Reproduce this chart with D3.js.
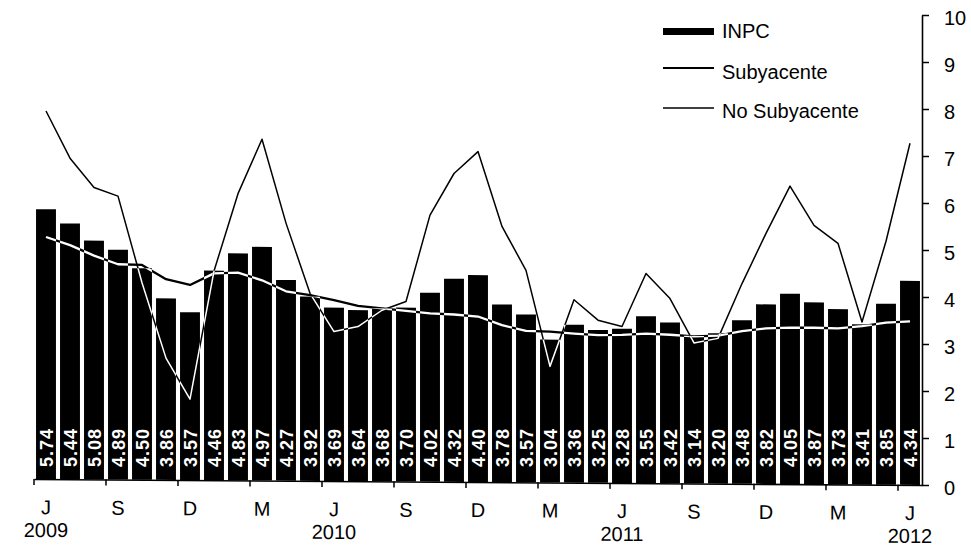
<!DOCTYPE html>
<html><head><meta charset="utf-8">
<script src="https://cdn.jsdelivr.net/npm/d3@7"></script>
<style>
html,body{margin:0;padding:0;background:#fff;}
svg{display:block;font-family:"Liberation Sans",Arial,sans-serif;}
</style></head>
<body>
<svg id="chart" width="971" height="548"></svg>
<script>
const categories = ["2009-06","2009-07","2009-08","2009-09","2009-10","2009-11","2009-12",
"2010-01","2010-02","2010-03","2010-04","2010-05","2010-06","2010-07","2010-08","2010-09","2010-10","2010-11","2010-12",
"2011-01","2011-02","2011-03","2011-04","2011-05","2011-06","2011-07","2011-08","2011-09","2011-10","2011-11","2011-12",
"2012-01","2012-02","2012-03","2012-04","2012-05","2012-06"];
const inpc = [5.74,5.44,5.08,4.89,4.50,3.86,3.57,4.46,4.83,4.97,4.27,3.92,3.69,3.64,3.68,3.70,4.02,4.32,4.40,
3.78,3.57,3.04,3.36,3.25,3.28,3.55,3.42,3.14,3.20,3.48,3.82,4.05,3.87,3.73,3.41,3.85,4.34];
const subyacente = [5.15,4.98,4.76,4.58,4.57,4.27,4.15,4.40,4.42,4.26,4.03,3.95,3.85,3.73,3.68,3.63,3.58,3.56,3.52,
3.34,3.22,3.21,3.17,3.14,3.15,3.18,3.16,3.13,3.15,3.25,3.31,3.33,3.33,3.32,3.37,3.45,3.48];
const noSubyacente = [7.83,6.83,6.21,6.03,4.19,2.59,1.72,4.45,6.10,7.26,5.48,3.99,3.18,3.29,3.64,3.83,5.67,6.56,7.03,
5.44,4.51,2.47,3.89,3.46,3.33,4.46,3.93,2.99,3.09,4.26,5.33,6.34,5.51,5.13,3.46,5.18,7.27];
const tickCats = ["2009-06","2009-09","2009-12","2010-03","2010-06","2010-09","2010-12","2011-03","2011-06","2011-09","2011-12","2012-03","2012-06"];
const tickLabels = ["J","S","D","M","J","S","D","M","J","S","D","M","J"];
const yearCats = ["2009-06","2010-06","2011-06","2012-06"];
const yearLabels = ["2009","2010","2011","2012"];
const yTicks = [0,1,2,3,4,5,6,7,8,9,10];
const legendNames = ["INPC","Subyacente","No Subyacente"];

const svg = d3.select("#chart");
const plotLeft = 34, plotRight = 922, plotTop = 15, plotBottom = 485;
const skewK = 0.0068;

const xAxisScale = d3.scaleBand().domain(categories).range([plotLeft, plotRight]).padding(0);
const xBar = d3.scaleBand().domain(categories).range([plotLeft, plotRight]).paddingInner(0.17).paddingOuter(0.085);
const y = d3.scaleLinear().domain([0, 10]).range([plotBottom, plotTop]);
const bw = xAxisScale.bandwidth();
const cx = c => xAxisScale(c) + bw / 2;

const g = svg.append("g")
  .attr("transform", `translate(0,${-skewK * plotRight}) skewY(${Math.atan(skewK) * 180 / Math.PI})`);

const defs = svg.append("defs");
const clip = defs.append("clipPath").attr("id", "barclip");
clip.selectAll("rect").data(categories).join("rect")
  .attr("x", d => xBar(d)).attr("width", xBar.bandwidth())
  .attr("y", (d, i) => y(inpc[i])).attr("height", (d, i) => y(0) - y(inpc[i]));

g.selectAll("rect.bar").data(categories).join("rect").attr("class", "bar")
  .attr("x", d => xBar(d)).attr("width", xBar.bandwidth())
  .attr("y", (d, i) => y(inpc[i])).attr("height", (d, i) => y(0) - y(inpc[i]))
  .attr("fill", "#000");

const line = d3.line().x(d => cx(d[0])).y(d => y(d[1]));
const subData = categories.map((c, i) => [c, subyacente[i]]);
const noData = categories.map((c, i) => [c, noSubyacente[i]]);

[[subData, 2.3], [noData, 1.5]].forEach(([data, w]) => {
  g.append("path").datum(data).attr("d", line).attr("fill", "none")
    .attr("stroke", "#000").attr("stroke-width", w).attr("stroke-linejoin", "round");
  g.append("path").datum(data).attr("d", line).attr("fill", "none")
    .attr("stroke", "#fff").attr("stroke-width", w).attr("stroke-linejoin", "round")
    .attr("clip-path", "url(#barclip)");
});

const xAxis = d3.axisBottom(xAxisScale).tickValues(tickCats)
  .tickFormat(d => tickLabels[tickCats.indexOf(d)])
  .tickSizeOuter(0).tickSizeInner(6).tickPadding(15);
const xg = g.append("g").attr("transform", `translate(0,${plotBottom})`).call(xAxis);
xg.select(".domain").attr("stroke", "#000").attr("stroke-width", 1.6);
xg.selectAll(".tick line").attr("x1", -bw / 2).attr("x2", -bw / 2).attr("stroke", "#000").attr("stroke-width", 1.5);
xg.selectAll(".tick text").attr("font-size", 20).attr("fill", "#000").attr("font-family", "Liberation Sans, Arial, sans-serif");

g.selectAll("text.year").data(yearCats).join("text").attr("class", "year")
  .attr("x", d => cx(d)).attr("y", 543).attr("text-anchor", "middle")
  .attr("font-size", 20).attr("fill", "#000").text((d, i) => yearLabels[i]);

svg.selectAll("text.val").data(categories).join("text").attr("class", "val")
  .attr("transform", d => `translate(${cx(d) + 1},467) rotate(-90)`)
  .attr("dy", "0.35em").attr("text-anchor", "start")
  .attr("font-size", 18).attr("font-weight", "bold").attr("letter-spacing", 1)
  .attr("fill", "#fff").text((d, i) => inpc[i].toFixed(2));

const yAxis = d3.axisRight(y).tickValues(yTicks).tickFormat(d3.format("d"))
  .tickSizeOuter(0).tickSizeInner(7).tickPadding(15);
const yg = svg.append("g").attr("transform", `translate(${plotRight},0)`).call(yAxis);
yg.select(".domain").attr("stroke", "#000").attr("stroke-width", 1.6);
yg.selectAll(".tick line").attr("stroke", "#000").attr("stroke-width", 1.5);
yg.selectAll(".tick text").attr("font-size", 20).attr("fill", "#000").attr("dy", "0.45em")
  .attr("font-family", "Liberation Sans, Arial, sans-serif");

const lg = svg.append("g");
lg.append("rect").attr("x", 663).attr("y", 28).attr("width", 51).attr("height", 7).attr("fill", "#000");
[68, 108].forEach((ly, i) => {
  lg.append("line").attr("x1", 663).attr("x2", 714).attr("y1", ly).attr("y2", ly)
    .attr("stroke", "#000").attr("stroke-width", i === 0 ? 2 : 1.6);
});
lg.selectAll("text").data(legendNames).join("text")
  .attr("x", 722).attr("y", (d, i) => [38, 79, 118][i])
  .attr("font-size", 20).attr("fill", "#000").text(d => d);
</script>
</body></html>
